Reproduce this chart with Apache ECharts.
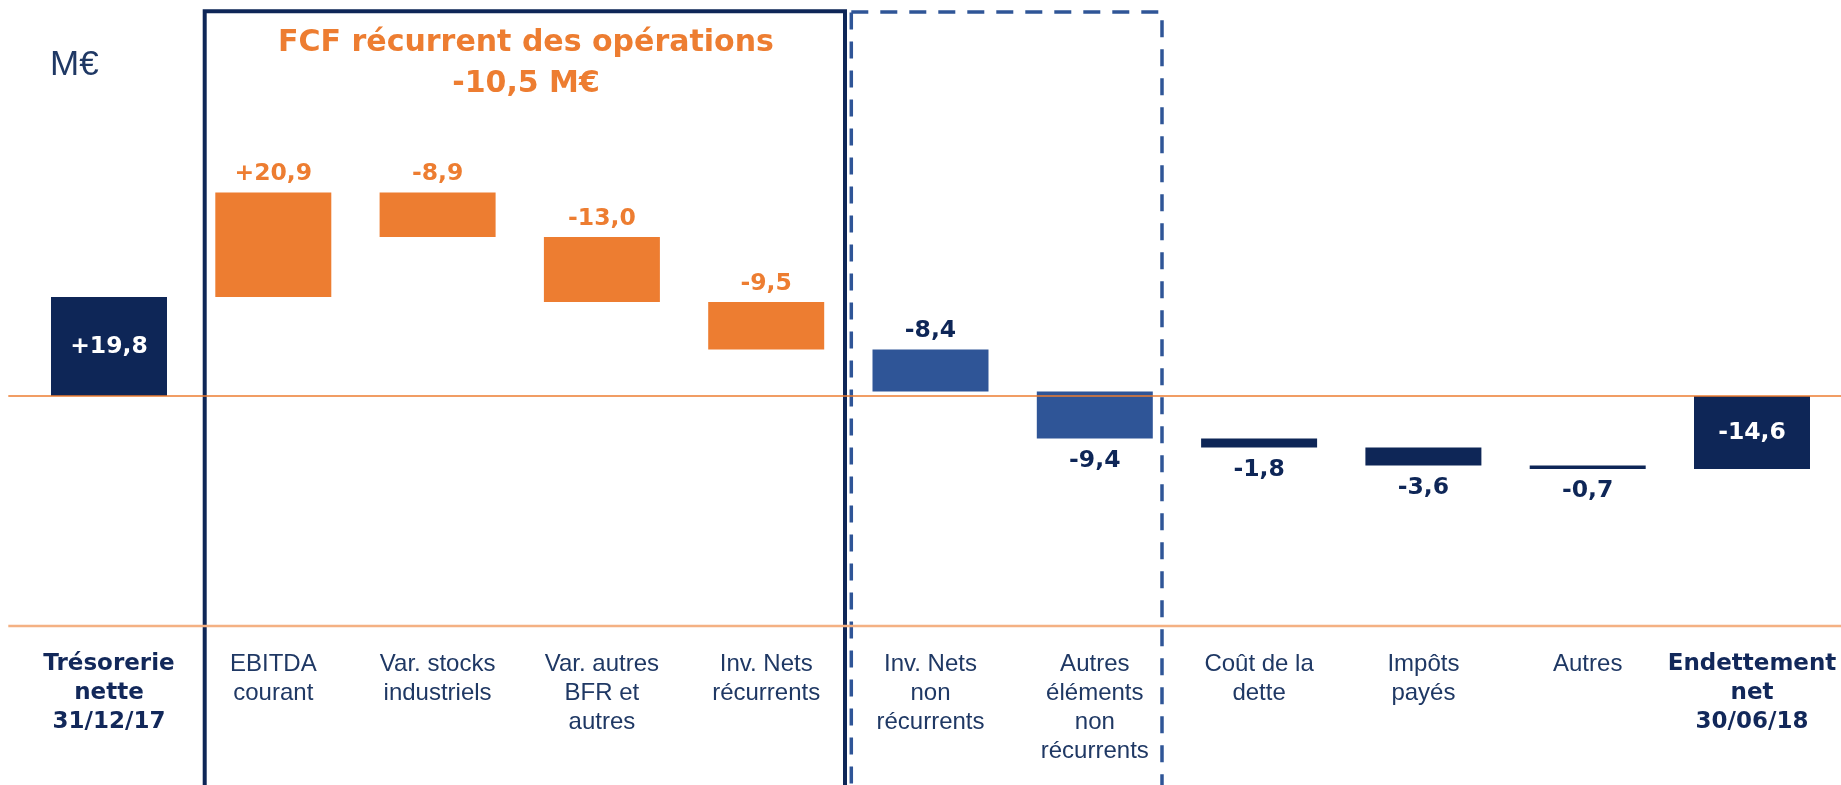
<!DOCTYPE html>
<html>
<head>
<meta charset="utf-8">
<script src="https://cdn.jsdelivr.net/npm/echarts@6.0.0/dist/echarts.min.js"></script>
<style>html,body{margin:0;padding:0;background:#fff}#c{width:1841px;height:785px}</style>
</head>
<body>
<div id="c"></div>
<script>
// ---- data ----
const categories = [
  'Trésorerie\nnette\n31/12/17',
  'EBITDA\ncourant',
  'Var. stocks\nindustriels',
  'Var. autres\nBFR et\nautres',
  'Inv. Nets\nrécurrents',
  'Inv. Nets\nnon\nrécurrents',
  'Autres\néléments\nnon\nrécurrents',
  'Coût de la\ndette',
  'Impôts\npayés',
  'Autres',
  'Endettement\nnet\n30/06/18'
];
const values = [19.8, 20.9, -8.9, -13.0, -9.5, -8.4, -9.4, -1.8, -3.6, -0.7, -14.6];
const groups = ['total', 'fcf', 'fcf', 'fcf', 'fcf', 'nonrec', 'nonrec', 'other', 'other', 'other', 'total'];
const labelSides = ['inside', 'top', 'top', 'top', 'top', 'top', 'bottom', 'bottom', 'bottom', 'bottom', 'inside'];
const titleLines = ['FCF récurrent des opérations', '-10,5 M€'];
const unitLabel = 'M€';

// ---- styles ----
const NAVY = '#0E2657';
const NAVY_TXT = '#1F3864';
const ORANGE = '#ED7D31';
const BLUE = '#2F5597';
const barColors = { total: NAVY, fcf: ORANGE, nonrec: BLUE, other: NAVY };
const labelColors = { total: '#fff', fcf: ORANGE, nonrec: NAVY, other: NAVY };

function fmt(v) {
  return (v > 0 ? '+' : '') + v.toFixed(1).replace('.', ',');
}

// waterfall ranges
let cum = 0;
const bars = values.map((v, i) => {
  let lo, hi;
  if (groups[i] === 'total') {
    lo = Math.min(0, v); hi = Math.max(0, v); cum = v;
  } else {
    const s = cum; cum = s + v;
    lo = Math.min(s, cum); hi = Math.max(s, cum);
  }
  return [i, lo, hi, v];
});

const chart = echarts.init(document.getElementById('c'), null, { renderer: 'canvas' });

function renderItem(params, api) {
  const i = api.value(0), lo = api.value(1), hi = api.value(2), v = api.value(3);
  const pTop = api.coord([i, hi]);
  const pBot = api.coord([i, lo]);
  const band = api.size([1, 0])[0];
  const w = band * 0.706;
  const g = groups[i];
  const side = labelSides[i];
  let ty, tc = labelColors[g];
  if (side === 'inside') { ty = (pTop[1] + pBot[1]) / 2; tc = '#fff'; }
  else if (side === 'top') { ty = pTop[1] - 18.5; }
  else { ty = pBot[1] + 22; }
  return {
    type: 'group',
    children: [
      { type: 'rect', shape: { x: pTop[0] - w / 2, y: pTop[1], width: w, height: Math.max(pBot[1] - pTop[1], 1) },
        style: { fill: barColors[g] } },
      { type: 'text', x: pTop[0], y: ty, z2: 10,
        style: { text: fmt(v), fill: tc, fontFamily: 'DejaVu Sans', fontWeight: 'bold', fontSize: 23.5,
                 align: 'center', verticalAlign: 'middle' } }
    ]
  };
}

const boldIdx = [0, categories.length - 1];

chart.setOption({
  animation: false,
  backgroundColor: '#fff',
  grid: { left: 26.85, right: 6.85, top: 96, bottom: 159, containLabel: false },
  xAxis: {
    type: 'category',
    data: categories.map((c, i) => boldIdx.includes(i)
      ? { value: c, textStyle: { fontFamily: 'DejaVu Sans', fontWeight: 'bold', fontSize: 23, color: '#12285A', lineHeight: 29 } }
      : { value: c }),
    axisLine: { show: false },
    axisTick: { show: false },
    splitLine: { show: false },
    axisLabel: {
      interval: 0, margin: 24, fontFamily: 'Liberation Sans', fontSize: 24, lineHeight: 29,
      color: NAVY_TXT, align: 'center', verticalAlign: 'top'
    }
  },
  yAxis: { type: 'value', min: -46, max: 60, show: false, splitLine: { show: false } },
  series: [{
    type: 'custom',
    renderItem: renderItem,
    encode: { x: 0, y: [1, 2] },
    data: bars,
    z: 2
  }]
});

const y0 = chart.convertToPixel({ yAxisIndex: 0 }, 0);
const yb = chart.convertToPixel({ yAxisIndex: 0 }, -46);

chart.setOption({
  graphic: [
    // solid box around recurring FCF
    { type: 'rect', z: 5, shape: { x: 204.7, y: 11.3, width: 640.3, height: 800 },
      style: { fill: 'none', stroke: NAVY, lineWidth: 4 } },
    // dashed box around non-recurring items
    { type: 'rect', z: 5, shape: { x: 851.3, y: 12, width: 310.7, height: 800 },
      style: { fill: 'none', stroke: BLUE, lineWidth: 3.5, lineDash: [17, 12] } },
    // zero line
    { type: 'line', z: 50, shape: { x1: 8.3, y1: y0, x2: 1841, y2: y0 },
      style: { stroke: ORANGE, lineWidth: 1.5 } },
    // bottom baseline
    { type: 'line', z: 50, shape: { x1: 8.3, y1: yb, x2: 1841, y2: yb },
      style: { stroke: '#F4B183', lineWidth: 2.3 } },
    // unit label
    { type: 'text', z: 60, x: 50, y: 65,
      style: { text: unitLabel, fill: NAVY_TXT, fontFamily: 'Liberation Sans', fontSize: 35,
               align: 'left', verticalAlign: 'middle' } },
    // title lines
    { type: 'text', z: 60, x: 526, y: 43.5,
      style: { text: titleLines[0], fill: ORANGE, fontFamily: 'DejaVu Sans', fontWeight: 'bold', fontSize: 30,
               align: 'center', verticalAlign: 'middle' } },
    { type: 'text', z: 60, x: 526, y: 84,
      style: { text: titleLines[1], fill: ORANGE, fontFamily: 'DejaVu Sans', fontWeight: 'bold', fontSize: 30,
               align: 'center', verticalAlign: 'middle' } }
  ]
});
</script>
</body>
</html>
